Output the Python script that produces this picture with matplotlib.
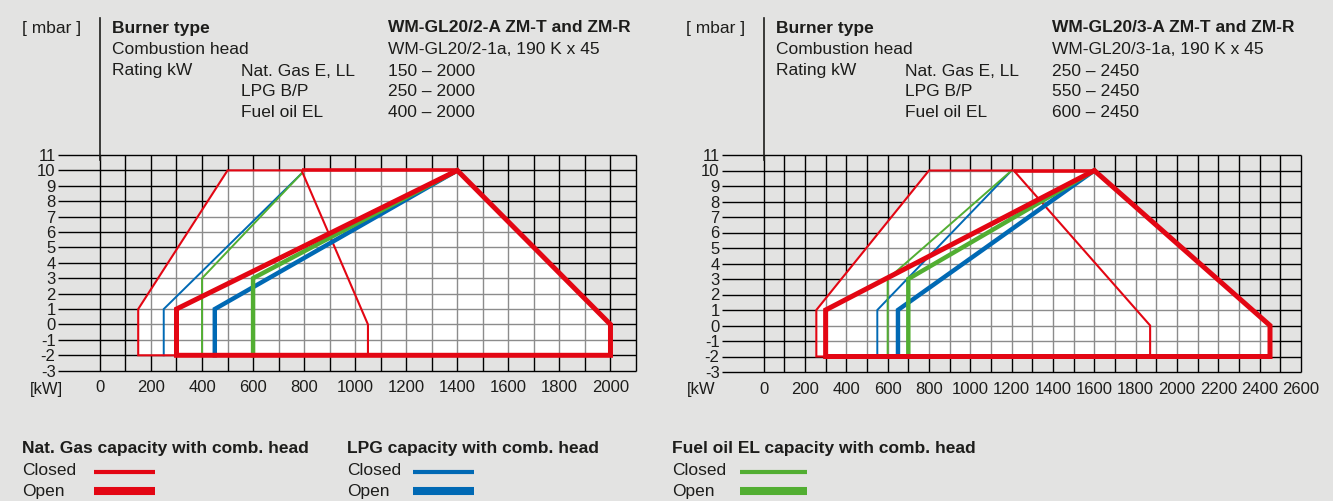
import numpy as np
import matplotlib.pyplot as plt
import matplotlib.transforms as mtransforms
from matplotlib.patches import Polygon
from matplotlib.lines import Line2D

plt.rcParams['font.family'] = ['Liberation Sans', 'DejaVu Sans']
plt.rcParams['axes.unicode_minus'] = False

RED = '#e30613'
BLUE = '#0069b4'
GREEN = '#52ae32'
BG = '#e3e3e2'
TXT = '#1d1d1b'
GRID_IN = '#8c8c8c'

# shared axis values
mbar_ticks = list(range(-3, 12))
header_rows = ['Burner type', 'Combustion head', 'Rating kW']
fuel_names = ['Nat. Gas E, LL', 'LPG B/P', 'Fuel oil EL']

# ---- WM-GL20/2 (left chart) ----
l_burner = 'WM-GL20/2-A ZM-T and ZM-R'
l_head = 'WM-GL20/2-1a, 190 K x 45'
l_ratings = ['150 – 2000', '250 – 2000', '400 – 2000']
l_kw_ticks = list(range(0, 2001, 200))
l_kw_grid = list(range(0, 2101, 100))
l_field_kw = [150, 150, 500, 1400, 2000, 2000]
l_field_mbar = [-2, 1, 10, 10, 0, -2]
l_gas_closed_kw = [150, 150, 500, 790, 1050, 1050]
l_gas_closed_mbar = [-2, 1, 10, 10, 0, -2]
l_gas_top_kw = [790, 1400]
l_gas_top_mbar = [10, 10]
l_gas_open_kw = [300, 300, 1400, 2000, 2000]
l_gas_open_mbar = [-2, 1, 10, 0, -2]
l_lpg_closed_kw = [250, 250, 790]
l_lpg_closed_mbar = [-2, 1, 9.8]
l_lpg_open_kw = [450, 450, 1400]
l_lpg_open_mbar = [-2, 1, 10]
l_oil_closed_kw = [400, 400, 790]
l_oil_closed_mbar = [-2, 3, 9.8]
l_oil_open_kw = [600, 600, 1400]
l_oil_open_mbar = [-2, 3, 10]

# ---- WM-GL20/3 (right chart) ----
r_burner = 'WM-GL20/3-A ZM-T and ZM-R'
r_head = 'WM-GL20/3-1a, 190 K x 45'
r_ratings = ['250 – 2450', '550 – 2450', '600 – 2450']
r_kw_ticks = list(range(0, 2601, 200))
r_kw_grid = list(range(0, 2601, 100))
r_field_kw = [255, 255, 800, 1600, 2450, 2450]
r_field_mbar = [-2, 1, 10, 10, 0, -2]
r_gas_closed_kw = [255, 255, 800, 1210, 1870, 1870]
r_gas_closed_mbar = [-2, 1, 10, 10, 0, -2]
r_gas_top_kw = [1210, 1600]
r_gas_top_mbar = [10, 10]
r_gas_open_kw = [300, 300, 1600, 2450, 2450]
r_gas_open_mbar = [-2, 1, 10, 0, -2]
r_lpg_closed_kw = [550, 550, 1200]
r_lpg_closed_mbar = [-2, 1, 10]
r_lpg_open_kw = [650, 650, 1600]
r_lpg_open_mbar = [-2, 1, 10]
r_oil_closed_kw = [600, 600, 1200]
r_oil_closed_mbar = [-2, 3, 10]
r_oil_open_kw = [700, 700, 1600]
r_oil_open_mbar = [-2, 3, 10]

W, H = 1333, 501
fig = plt.figure(figsize=(W / 100, H / 100), dpi=100, facecolor=BG)


def fx(x):
    return x / W


def fy(y):
    return 1 - y / H


def draw_chart(ax, kw_min, kw_ticks, kw_grid, field, gas_closed, gas_top, gas_open,
               lpg_closed, lpg_open, oil_closed, oil_open):
    kw_max = kw_grid[-1]
    ax.set_facecolor('none')
    for s in ax.spines.values():
        s.set_visible(False)

    # black grid outside the working field
    ax.hlines(mbar_ticks, kw_min, kw_max, colors='black', lw=1.0, zorder=1, clip_on=False)
    ax.vlines(kw_grid, -3, 11, colors='black', lw=1.0, zorder=1, clip_on=False)

    # white working field with grey grid
    poly = Polygon(np.column_stack(field), closed=True, facecolor='white',
                   edgecolor='none', zorder=2)
    ax.add_patch(poly)
    h2 = ax.hlines(mbar_ticks, kw_min, kw_max, colors=GRID_IN, lw=1.0, zorder=3)
    v2 = ax.vlines(kw_grid, -3, 11, colors=GRID_IN, lw=1.0, zorder=3)
    h2.set_clip_path(poly)
    v2.set_clip_path(poly)

    # closed head (thin)
    ax.plot(*lpg_closed, color=BLUE, lw=1.4, zorder=4, solid_joinstyle='miter')
    ax.plot(*oil_closed, color=GREEN, lw=1.4, zorder=4, solid_joinstyle='miter')
    ax.add_patch(Polygon(np.column_stack(gas_closed), closed=True, fill=False,
                         edgecolor=RED, lw=1.5, joinstyle='miter', zorder=5))
    ax.plot(*gas_top, color=RED, lw=2.6, zorder=5, solid_capstyle='butt')

    # open head (thick)
    ax.plot(*lpg_open, color=BLUE, lw=3.2, zorder=6, solid_joinstyle='miter')
    ax.plot(*oil_open, color=GREEN, lw=3.2, zorder=7, solid_joinstyle='miter')
    ax.add_patch(Polygon(np.column_stack(gas_open), closed=True, fill=False,
                         edgecolor=RED, lw=3.6, joinstyle='miter', zorder=8))

    ax.set_xlim(kw_min, kw_max)
    ax.set_ylim(-3, 11)
    ax.set_xticks(kw_ticks)
    ax.set_yticks(mbar_ticks)
    ax.tick_params(length=0, labelsize=12, colors=TXT)
    ax.tick_params(axis='x', pad=7)
    ax.tick_params(axis='y', pad=2)

    # axis line running up into the header
    tr = mtransforms.blended_transform_factory(ax.transData, fig.transFigure)
    ax.plot([0, 0], [fy(18), fy(160)], transform=tr, color=TXT, lw=1.2, clip_on=False)


def draw_header(x0, burner, head, ratings):
    # x0 = pixel position of the 0 kW line
    base = [32.5, 54, 75.5, 96.5, 117]
    fig.text(fx(x0 - 78), fy(base[0]), '[ mbar ]', fontsize=12.5, color=TXT, va='baseline')
    for i, t in enumerate(header_rows):
        fig.text(fx(x0 + 12.5), fy(base[i]), t, fontsize=12.5, color=TXT, va='baseline',
                 fontweight='bold' if i == 0 else 'normal')
    for i, t in enumerate(fuel_names):
        fig.text(fx(x0 + 141), fy(base[2 + i]), t, fontsize=12.5, color=TXT, va='baseline')
    fig.text(fx(x0 + 288.5), fy(base[0]), burner, fontsize=12.5, color=TXT,
             va='baseline', fontweight='bold')
    fig.text(fx(x0 + 288.5), fy(base[1]), head, fontsize=12.5, color=TXT, va='baseline')
    for i, t in enumerate(ratings):
        fig.text(fx(x0 + 288.5), fy(base[2 + i]), t, fontsize=12.5, color=TXT, va='baseline')


ax1 = fig.add_axes([fx(58.3), fy(370.7), (636 - 58.3) / W, (370.7 - 155) / H])
draw_chart(ax1, -163, l_kw_ticks, l_kw_grid,
           (l_field_kw, l_field_mbar),
           (l_gas_closed_kw, l_gas_closed_mbar), (l_gas_top_kw, l_gas_top_mbar),
           (l_gas_open_kw, l_gas_open_mbar),
           (l_lpg_closed_kw, l_lpg_closed_mbar), (l_lpg_open_kw, l_lpg_open_mbar),
           (l_oil_closed_kw, l_oil_closed_mbar), (l_oil_open_kw, l_oil_open_mbar))
draw_header(99.5, l_burner, l_head, l_ratings)
fig.text(fx(30), fy(394), '[kW]', fontsize=12, color=TXT, va='baseline')

ax2 = fig.add_axes([fx(722.3), fy(372), (1301 - 722.3) / W, (372 - 155) / H])
draw_chart(ax2, -200, r_kw_ticks, r_kw_grid,
           (r_field_kw, r_field_mbar),
           (r_gas_closed_kw, r_gas_closed_mbar), (r_gas_top_kw, r_gas_top_mbar),
           (r_gas_open_kw, r_gas_open_mbar),
           (r_lpg_closed_kw, r_lpg_closed_mbar), (r_lpg_open_kw, r_lpg_open_mbar),
           (r_oil_closed_kw, r_oil_closed_mbar), (r_oil_open_kw, r_oil_open_mbar))
draw_header(763.7, r_burner, r_head, r_ratings)
fig.text(fx(687), fy(394), '[kW', fontsize=12, color=TXT, va='baseline')

# legend
legend_titles = ['Nat. Gas capacity with comb. head', 'LPG capacity with comb. head',
                 'Fuel oil EL capacity with comb. head']
legend_colors = [RED, BLUE, GREEN]
legend_x = [22, 347, 672]
legend_line_x = [(94, 155), (413, 474), (740, 807)]
for title, col, x, (lx0, lx1) in zip(legend_titles, legend_colors, legend_x, legend_line_x):
    fig.text(fx(x), fy(453.5), title, fontsize=12.5, color=TXT, va='baseline', fontweight='bold')
    fig.text(fx(x), fy(475), 'Closed', fontsize=12.5, color=TXT, va='baseline')
    fig.text(fx(x), fy(496), 'Open', fontsize=12.5, color=TXT, va='baseline')
    fig.add_artist(Line2D([fx(lx0), fx(lx1)], [fy(471.5), fy(471.5)], transform=fig.transFigure,
                          color=col, lw=3.0, solid_capstyle='butt'))
    fig.add_artist(Line2D([fx(lx0), fx(lx1)], [fy(491), fy(491)], transform=fig.transFigure,
                          color=col, lw=5.8, solid_capstyle='butt'))

plt.savefig('out.png', dpi=100, facecolor=BG)
